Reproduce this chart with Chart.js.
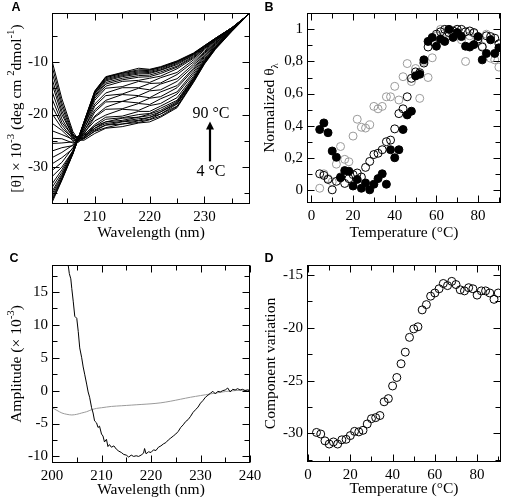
<!DOCTYPE html>
<html><head><meta charset="utf-8">
<script src="https://cdn.jsdelivr.net/npm/chart.js@4.4.1/dist/chart.umd.min.js"></script>
<style>
html,body{margin:0;padding:0;background:#fff;}
#wrap{position:relative;width:506px;height:497px;overflow:hidden;}
canvas{position:absolute;left:0;top:0;}
</style></head><body>
<div id="wrap">
<canvas id="cA" width="506" height="497"></canvas>
<canvas id="cB" width="506" height="497"></canvas>
<canvas id="cC" width="506" height="497"></canvas>
<canvas id="cD" width="506" height="497"></canvas>
</div>
<script>
// ---------------- DATA ----------------
// Panel A: CD spectra at increasing temperature (4 °C .. 90 °C)
const aWave = [202,204,206,207,208,210,212,215,218,220,222,225,228,230,232,235,238];
const aSpectra = [
 [-9.0,-17.0,-23.2,-24.8,-24.9,-23.6,-22.6,-22.3,-21.6,-21.4,-20.5,-18.7,-13.9,-10.4,-7.6,-4.2,-1.0],
 [-10.0,-17.8,-23.6,-25.1,-24.6,-23.2,-22.5,-21.8,-21.5,-21.0,-20.3,-18.5,-13.8,-10.3,-7.5,-4.1,-1.0],
 [-11.2,-18.5,-23.9,-24.6,-24.6,-23.1,-22.0,-21.8,-21.2,-20.9,-19.9,-18.4,-13.6,-10.2,-7.4,-4.1,-1.0],
 [-12.5,-19.3,-24.2,-25.3,-24.2,-22.9,-22.0,-21.4,-21.1,-20.5,-19.9,-18.0,-13.5,-10.1,-7.4,-4.1,-1.0],
 [-13.5,-20.0,-24.0,-24.5,-24.5,-22.6,-21.7,-21.3,-20.8,-20.6,-19.5,-17.9,-13.4,-10.0,-7.3,-4.0,-1.0],
 [-15.0,-20.8,-24.4,-25.0,-24.0,-22.6,-21.4,-21.1,-20.5,-20.2,-19.5,-17.7,-13.3,-10.0,-7.3,-4.0,-1.0],
 [-16.5,-21.5,-24.1,-24.3,-24.3,-22.2,-21.4,-20.7,-20.5,-19.9,-19.2,-17.5,-13.1,-9.9,-7.3,-4.0,-1.0],
 [-18.0,-22.0,-24.6,-24.9,-23.8,-22.2,-20.9,-20.6,-20.0,-19.8,-18.8,-17.3,-13.0,-9.8,-7.2,-4.0,-1.0],
 [-19.5,-22.6,-24.5,-24.2,-23.9,-21.9,-20.5,-20.3,-19.4,-19.4,-18.4,-16.8,-12.7,-9.6,-7.1,-4.0,-1.0],
 [-21.5,-23.0,-25.0,-24.9,-23.5,-21.2,-20.1,-19.0,-19.2,-18.3,-17.9,-16.1,-12.3,-9.4,-7.0,-3.9,-1.0],
 [-23.0,-23.8,-24.7,-24.1,-23.7,-20.5,-19.0,-18.9,-17.9,-18.1,-17.0,-15.7,-11.9,-9.1,-6.8,-3.9,-1.0],
 [-24.5,-24.6,-25.4,-25.0,-23.1,-20.3,-18.6,-17.5,-17.8,-16.9,-16.6,-14.9,-11.5,-8.9,-6.7,-3.9,-1.0],
 [-25.5,-25.4,-25.2,-24.2,-23.3,-19.5,-17.6,-17.5,-16.5,-16.8,-15.7,-14.5,-11.2,-8.7,-6.5,-3.8,-1.0],
 [-27.0,-26.3,-25.9,-24.9,-22.7,-19.1,-17.3,-16.2,-16.4,-15.5,-15.3,-13.7,-10.8,-8.4,-6.4,-3.8,-1.0],
 [-28.3,-27.2,-25.8,-24.3,-22.8,-18.4,-16.4,-16.1,-15.0,-15.3,-14.2,-13.2,-10.4,-8.2,-6.3,-3.7,-1.0],
 [-29.5,-28.2,-26.5,-24.8,-22.2,-18.0,-15.9,-14.9,-14.9,-14.1,-14.0,-12.4,-10.0,-8.0,-6.1,-3.7,-1.0],
 [-30.8,-29.1,-26.3,-24.4,-22.3,-17.3,-15.0,-14.7,-13.7,-13.9,-13.0,-12.0,-9.6,-7.7,-6.0,-3.6,-1.0],
 [-32.0,-30.0,-26.9,-24.7,-21.9,-16.9,-14.6,-13.7,-13.5,-13.1,-12.7,-11.3,-9.3,-7.5,-5.9,-3.6,-1.0],
 [-33.5,-30.5,-26.9,-24.6,-21.9,-16.6,-14.2,-13.4,-12.9,-12.8,-12.2,-11.0,-9.1,-7.4,-5.8,-3.6,-1.0],
 [-34.2,-31.0,-27.0,-24.4,-21.8,-16.4,-13.9,-13.1,-12.6,-12.5,-11.9,-10.8,-8.9,-7.3,-5.7,-3.6,-1.0],
 [-35.0,-31.4,-27.2,-24.7,-21.7,-16.1,-13.6,-12.8,-12.3,-12.2,-11.6,-10.5,-8.7,-7.2,-5.7,-3.6,-1.0],
 [-35.5,-31.7,-27.3,-24.5,-21.7,-16.0,-13.4,-12.6,-12.1,-12.0,-11.5,-10.3,-8.6,-7.1,-5.6,-3.5,-1.0],
 [-36.0,-32.0,-27.4,-24.6,-21.6,-15.8,-13.2,-12.4,-11.9,-11.8,-11.3,-10.1,-8.5,-7.0,-5.6,-3.5,-1.0],
 [-36.5,-32.2,-27.4,-24.4,-21.6,-15.7,-13.0,-12.2,-11.7,-11.6,-11.1,-10.0,-8.4,-7.0,-5.5,-3.5,-1.0],
 [-36.8,-32.4,-27.5,-24.5,-21.5,-15.6,-12.9,-12.1,-11.5,-11.5,-11.0,-9.9,-8.4,-6.9,-5.5,-3.5,-1.0],
 [-37.2,-32.5,-27.5,-24.6,-21.5,-15.5,-12.8,-12.0,-11.2,-11.4,-10.9,-9.8,-8.3,-6.9,-5.5,-3.5,-1.0]
];
const aXMajor = [210,220,230], aXMinor = [205,215,225,235];
const aYMajor = [-30,-20,-10], aYMinor = [-35,-25,-15,-5];

// Panel B: normalized ellipticity vs temperature
const bTemp = [4,6,8,10,12,14,16,18,20,22,24,26,28,30,32,34,36,38,40,42,44,46,48,50,52,54,56,58,60,62,64,66,68,70,72,74,76,78,80,82,84,86,88,90];
const bFilled = [0.376,0.417,0.356,0.242,0.203,0.075,0.12,0.116,0.024,0.065,0.01,0.043,0.0,0.035,0.07,0.1,0.035,0.25,0.2,0.25,0.376,0.467,0.49,0.71,0.72,0.81,0.925,0.95,0.895,0.94,0.925,1.0,0.95,0.98,0.955,0.895,0.89,0.905,0.955,0.81,0.85,0.935,0.85,0.885];
const bOpen = [0.10,0.09,0.065,0.0,0.053,0.08,0.04,0.07,0.095,0.105,0.08,0.14,0.177,0.22,0.228,0.25,0.30,0.31,0.38,0.475,0.505,0.58,0.695,0.735,0.73,0.79,0.89,0.925,0.97,0.985,1.0,0.98,0.99,1.0,1.0,0.985,0.99,0.98,0.94,0.89,0.96,0.955,0.945,0.91];
const bGray = [0.01,0.10,0.07,0.05,0.16,0.27,0.19,0.175,0.335,0.44,0.39,0.385,0.405,0.52,0.505,0.52,0.58,0.58,0.645,0.56,0.705,0.787,0.675,0.756,0.57,0.80,0.70,0.823,0.96,1.0,0.975,0.96,0.975,1.0,0.935,0.80,0.96,0.975,0.925,0.895,0.97,0.82,0.81,0.765];
const bXMajor = [0,20,40,60,80], bXMinor = [10,30,50,70,90];
const bYMajor = [0,0.2,0.4,0.6,0.8,1], bYMinor = [0.1,0.3,0.5,0.7,0.9];

// Panel C: component amplitude spectra
const cWave = [203.2,203.5,203.8,204.0,204.3,204.6,205.0,205.3,205.6,206.0,206.3,206.6,207.0,207.3,207.6,208.0,208.3,208.6,209.0,209.3,209.6,210.0,210.3,210.6,211.0,211.3,211.6,212.0,212.5,213.0,213.5,214.0,214.5,215.0,215.5,216.0,216.5,217.0,217.5,218.0,218.5,218.7,219.0,219.5,220.0,220.5,221.0,221.5,222.0,222.5,223.0,223.5,224.0,224.5,225.0,225.5,226.0,226.5,227.0,227.5,228.0,228.5,229.0,229.5,230.0,230.5,231.0,231.5,232.0,232.5,233.0,233.5,234.0,234.5,235.0,235.5,236.0,236.5,237.0,237.5,238.0,238.5,239.0,239.5,240.0];
const cBlack = [19.5,17.8,17.0,15.5,13.5,11.3,11.0,9.0,6.5,5.0,3.6,2.5,1.0,-0.2,-1.0,-2.6,-3.4,-4.6,-4.9,-5.6,-5.4,-6.6,-6.9,-7.8,-7.4,-8.5,-8.2,-8.6,-8.4,-8.9,-9.2,-9.4,-9.7,-9.8,-10.1,-9.8,-10.0,-9.9,-10.0,-9.8,-9.5,-8.8,-9.6,-9.3,-9.4,-9.0,-9.1,-8.6,-8.4,-8.1,-7.9,-7.5,-7.2,-6.9,-6.6,-6.2,-5.6,-5.2,-4.7,-4.4,-3.9,-3.3,-2.9,-2.5,-1.9,-1.5,-1.0,-0.7,-0.4,-0.1,-0.5,-0.1,-0.2,0.0,0.1,0.4,-0.2,0.2,0.1,0.3,0.1,0.2,0.0,0.1,0.0];
const cGrayWave = [200,201,202,203,204,205,206,207,208,209,210,212,214,216,218,220,222,224,226,228,230,232,234,236,238,240];
const cGray = [-2.6,-3.0,-3.4,-3.6,-3.7,-3.6,-3.4,-3.2,-2.9,-2.7,-2.6,-2.4,-2.3,-2.2,-2.1,-2.0,-1.85,-1.6,-1.3,-1.0,-0.75,-0.5,-0.25,-0.05,0.05,0.1];
const cXMajor = [200,210,220,230,240], cXMinor = [205,215,225,235];
const cYMajor = [-10,-5,0,5,10,15], cYMinor = [-7.5,-2.5,2.5,7.5,12.5,17.5];

// Panel D: component variation vs temperature
const dTemp = [4,6,8,10,12,14,16,18,20,22,24,26,28,30,32,34,36,38,40,42,44,46,48,50,52,54,56,58,60,62,64,66,68,70,72,74,76,78,80,82,84,86,88,90];
const dComponent = [-29.9,-30.05,-30.7,-31.0,-30.8,-31.0,-30.6,-30.55,-30.2,-29.8,-29.85,-29.7,-29.1,-28.6,-28.5,-28.3,-27.0,-26.7,-25.5,-24.7,-23.4,-22.3,-20.9,-20.1,-19.9,-18.3,-17.8,-17.0,-16.7,-16.3,-15.8,-16.0,-15.6,-15.9,-16.4,-16.5,-16.2,-16.3,-16.9,-16.5,-16.5,-16.7,-17.3,-16.7];
const dXMajor = [0,20,40,60,80], dXMinor = [10,30,50,70,90];
const dYMajor = [-30,-25,-20,-15], dYMinor = [-32.5,-27.5,-22.5,-17.5];

// ---------------- RENDERING ----------------
const SERIF = "'Liberation Serif','Times New Roman',serif";
Chart.defaults.font.family = SERIF;
Chart.defaults.font.size = 15;
Chart.defaults.color = '#000';
Chart.defaults.animation = false;
const PW = 506, PH = 497, YW = 45, XH = 45, TITLE = 15.5;
const GRAY = '#9a9a9a';

function drawRich(ctx, segs, cx, cy, size, rotate) {
  ctx.save();
  ctx.translate(cx, cy);
  if (rotate) ctx.rotate(-Math.PI / 2);
  let total = 0;
  const ws = segs.map(s => { ctx.font = (size * (s.s || 1)) + 'px ' + SERIF; const w = ctx.measureText(s.t).width; total += w; return w; });
  let x = -total / 2;
  ctx.textBaseline = 'middle'; ctx.textAlign = 'left'; ctx.fillStyle = '#000';
  segs.forEach((s, i) => { ctx.font = (size * (s.s || 1)) + 'px ' + SERIF; ctx.fillText(s.t, x, (s.dy || 0) * size); x += ws[i]; });
  ctx.restore();
}

const extras = {};
const decor = {
  id: 'decor',
  afterDraw(chart) {
    const e = extras[chart.canvas.id]; if (!e) return;
    const ctx = chart.ctx, a = chart.chartArea, xs = chart.scales.x, ys = chart.scales.y;
    ctx.save();
    ctx.strokeStyle = '#000'; ctx.lineWidth = 1;
    const L = Math.round(a.left) + 0.5, R = Math.round(a.right) - 0.5, T = Math.round(a.top) + 0.5, B = Math.round(a.bottom) - 0.5;
    ctx.strokeRect(L, T, R - L, B - T);
    ctx.beginPath();
    const tk = (vals, len, horiz) => vals.forEach(v => {
      if (horiz) { const p = Math.round(xs.getPixelForValue(v)) + 0.5; ctx.moveTo(p, B); ctx.lineTo(p, B - len); ctx.moveTo(p, T); ctx.lineTo(p, T + len); }
      else { const p = Math.round(ys.getPixelForValue(v)) + 0.5; ctx.moveTo(L, p); ctx.lineTo(L + len, p); ctx.moveTo(R, p); ctx.lineTo(R - len, p); }
    });
    tk(e.xMajor, 7, true); tk(e.xMinor, 5, true); tk(e.yMajor, 7, false); tk(e.yMinor, 5, false);
    ctx.stroke();
    drawRich(ctx, e.xTitle, (a.left + a.right) / 2, a.bottom + e.xTitleDy, TITLE, false);
    drawRich(ctx, e.yTitle, e.yTitleX, (a.top + a.bottom) / 2, TITLE, true);
    ctx.font = "bold 12.5px 'Liberation Sans', Arial, sans-serif";
    ctx.textAlign = 'center'; ctx.textBaseline = 'middle'; ctx.fillStyle = '#000';
    ctx.fillText(e.letter, e.letterX, e.letterY);
    if (e.extra) e.extra(chart);
    ctx.restore();
  }
};

function scaleX(min, max, major, fmt) {
  return { type: 'linear', min, max,
    grid: { display: false, drawTicks: false }, border: { display: false },
    ticks: { padding: 4, autoSkip: false, maxRotation: 0, minRotation: 0, callback: fmt || (v => String(v)) },
    afterBuildTicks: s => { s.ticks = major.map(v => ({ value: v })); },
    afterFit: s => { s.height = XH; } };
}
function scaleY(min, max, major, fmt) {
  return { type: 'linear', min, max,
    grid: { display: false, drawTicks: false }, border: { display: false },
    ticks: { padding: 4, autoSkip: false, callback: fmt || (v => String(v)) },
    afterBuildTicks: s => { s.ticks = major.map(v => ({ value: v })); },
    afterFit: s => { s.width = YW; } };
}
function layoutFor(l, r, t, b) {
  return { padding: { left: l - YW, right: PW - r, top: t, bottom: PH - b - XH } };
}
function baseOptions(area, sx, sy) {
  return { responsive: false, animation: false, events: [], devicePixelRatio: 1,
    layout: layoutFor(area[0], area[1], area[2], area[3]),
    plugins: { legend: { display: false }, tooltip: { enabled: false } },
    scales: { x: sx, y: sy } };
}
const pts = (xs, ys) => xs.map((x, i) => ({ x, y: ys[i] }));

// Panel A
extras.cA = { xMajor: aXMajor, xMinor: aXMinor, yMajor: aYMajor, yMinor: aYMinor,
  xTitle: [{ t: 'Wavelength (nm)' }], xTitleDy: 29,
  yTitle: [{ t: '[θ] × 10' }, { t: '-3', s: 0.7, dy: -0.4 }, { t: ' (deg cm ' }, { t: '2', s: 0.7, dy: -0.4 }, { t: 'dmol' }, { t: '-1', s: 0.7, dy: -0.4 }, { t: ')' }],
  yTitleX: 17, letter: 'A', letterX: 16, letterY: 8,
  extra(chart) {
    const ctx = chart.ctx, xs = chart.scales.x, ys = chart.scales.y;
    const px = Math.round(xs.getPixelForValue(231));
    const yTop = ys.getPixelForValue(-21.3), yBot = ys.getPixelForValue(-28.9);
    ctx.fillStyle = '#000'; ctx.strokeStyle = '#000'; ctx.lineWidth = 2.2;
    ctx.beginPath(); ctx.moveTo(px, yBot); ctx.lineTo(px, yTop + 6); ctx.stroke();
    ctx.beginPath(); ctx.moveTo(px, yTop); ctx.lineTo(px - 4, yTop + 8); ctx.lineTo(px + 4, yTop + 8); ctx.closePath(); ctx.fill();
    ctx.font = '16px ' + SERIF; ctx.textAlign = 'center'; ctx.textBaseline = 'middle';
    ctx.fillText('90 °C', px + 1, ys.getPixelForValue(-19.8));
    ctx.fillText('4 °C', px + 1, ys.getPixelForValue(-30.9));
  } };
new Chart(document.getElementById('cA'), {
  type: 'line',
  data: { datasets: aSpectra.map(s => ({ data: pts(aWave, s), borderColor: '#000', borderWidth: 1, pointRadius: 0, tension: 0, fill: false })) },
  options: baseOptions([52, 250, 8, 204], scaleX(202.2, 238.3, aXMajor), scaleY(-37, -0.7, aYMajor)),
  plugins: [decor]
});

// Panel B
const commaFmt = v => (v === 0 || v === 1) ? String(v) : String(v).replace('.', ',');
extras.cB = { xMajor: bXMajor, xMinor: bXMinor, yMajor: bYMajor, yMinor: bYMinor,
  xTitle: [{ t: 'Temperature (°C)' }], xTitleDy: 30,
  yTitle: [{ t: 'Normalized θ' }, { t: 'λ', s: 0.7, dy: 0.3 }],
  yTitleX: 270, letter: 'B', letterX: 269, letterY: 8 };
new Chart(document.getElementById('cB'), {
  type: 'scatter',
  data: { datasets: [
    { data: pts(bTemp, bFilled), backgroundColor: '#000', borderColor: '#000', borderWidth: 1, pointRadius: 4 },
    { data: pts(bTemp, bOpen), backgroundColor: 'rgba(0,0,0,0)', borderColor: '#000', borderWidth: 1, pointRadius: 4 },
    { data: pts(bTemp, bGray), backgroundColor: 'rgba(0,0,0,0)', borderColor: GRAY, borderWidth: 1, pointRadius: 4 }
  ] },
  options: baseOptions([307, 505, 8, 203], scaleX(-2.1, 91, bXMajor), scaleY(-0.082, 1.102, bYMajor, commaFmt)),
  plugins: [decor]
});

// Panel C
extras.cC = { xMajor: cXMajor, xMinor: cXMinor, yMajor: cYMajor, yMinor: cYMinor,
  xTitle: [{ t: 'Wavelength (nm)' }], xTitleDy: 27,
  yTitle: [{ t: 'Amplitude (× 10' }, { t: '-3', s: 0.7, dy: -0.4 }, { t: ')' }],
  yTitleX: 17, letter: 'C', letterX: 14, letterY: 259 };
new Chart(document.getElementById('cC'), {
  type: 'line',
  data: { datasets: [
    { data: pts(cWave, cBlack), borderColor: '#000', borderWidth: 1, pointRadius: 0, tension: 0, fill: false },
    { data: pts(cGrayWave, cGray), borderColor: GRAY, borderWidth: 1, pointRadius: 0, tension: 0.3, fill: false }
  ] },
  options: baseOptions([52, 250, 265, 463], scaleX(200, 240, cXMajor), scaleY(-11, 19.1, cYMajor)),
  plugins: [decor]
});

// Panel D
extras.cD = { xMajor: dXMajor, xMinor: dXMinor, yMajor: dYMajor, yMinor: dYMinor,
  xTitle: [{ t: 'Temperature (°C)' }], xTitleDy: 27,
  yTitle: [{ t: 'Component variation' }],
  yTitleX: 271, letter: 'D', letterX: 269, letterY: 259 };
new Chart(document.getElementById('cD'), {
  type: 'scatter',
  data: { datasets: [
    { data: pts(dTemp, dComponent), backgroundColor: 'rgba(0,0,0,0)', borderColor: '#000', borderWidth: 1, pointRadius: 4 }
  ] },
  options: baseOptions([307, 505, 265, 462], scaleX(-0.5, 91.3, dXMajor), scaleY(-32.7, -14.05, dYMajor)),
  plugins: [decor]
});
</script>
</body></html>
